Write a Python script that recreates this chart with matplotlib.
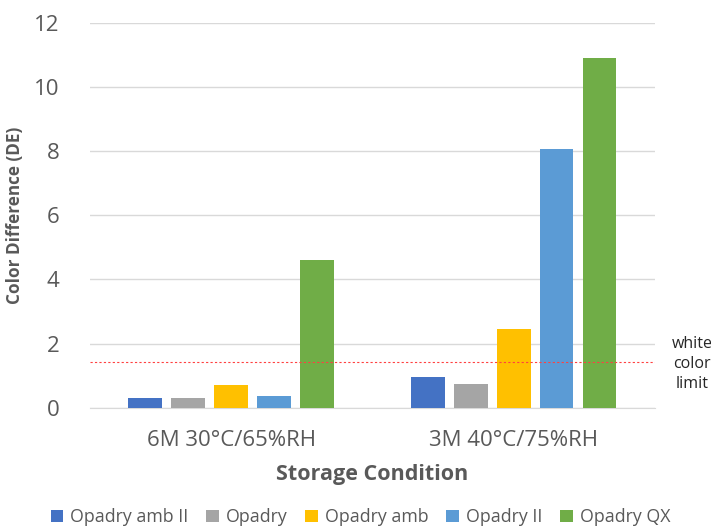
import numpy as np
from matplotlib import pyplot as plt

# data
conditions = ['6M 30°C/65%RH', '3M 40°C/75%RH']
series = ['Opadry amb II', 'Opadry', 'Opadry amb', 'Opadry II', 'Opadry QX']
amb_ii = [0.30, 0.95]
opadry = [0.30, 0.74]
amb = [0.71, 2.44]
opadry_ii = [0.37, 8.06]
qx = [4.6, 10.9]
white_limit = 1.44

colors = ['#4472C4', '#A5A5A5', '#FFC000', '#5B9BD5', '#70AD47']
values = [amb_ii, opadry, amb, opadry_ii, qx]

plt.rcParams['font.family'] = ['Open Sans', 'DejaVu Sans']

fig = plt.figure(figsize=(7.11, 5.27), dpi=100)
ax = fig.add_axes([0.1266, 0.2264, 0.7944, 0.73])

x = np.arange(len(conditions))
w = 0.12
step = 0.152
for i, (name, vals) in enumerate(zip(series, values)):
    off = (i - 2) * step
    ax.bar(x + off, vals, w, color=colors[i], label=name, zorder=3)

ax.axhline(white_limit, color='#FF4040', lw=0.8, ls=(0, (2, 2)), zorder=4)
fig.text(692 / 711, 1 - 364 / 527, 'white\ncolor\nlimit', ha='center', va='center',
         fontsize=11.5, color='#262626', linespacing=1.3, multialignment='center')

ax.set_xlim(-0.5, 1.5)
ax.set_ylim(0, 12)
ax.set_yticks([0, 2, 4, 6, 8, 10, 12])
ax.set_xticks(x)
ax.set_xticklabels(conditions)
ax.tick_params(axis='both', length=0, labelsize=16, colors='#595959')
ax.tick_params(axis='x', pad=16)
ax.tick_params(axis='y', pad=22)
ax.grid(axis='y', color='#D9D9D9', lw=1, zorder=0)
for s in ['top', 'right', 'left']:
    ax.spines[s].set_visible(False)
ax.spines['bottom'].set_color('#D9D9D9')

ax.set_ylabel('Color Difference (DE)', fontsize=12.3, fontweight='bold', color='#595959')
ax.yaxis.set_label_coords(-(90 - 24) / 565, 0.5)
ax.set_xlabel('Storage Condition', fontsize=15.5, fontweight='bold', color='#595959')
ax.xaxis.set_label_coords(0.5, -(475 - 407.7) / 384.7)
ax.xaxis.label.set_va('center')

fig.legend(loc='center', bbox_to_anchor=(0.5 + 5 / 711, 1 - 517 / 527), ncol=5, frameon=False,
           fontsize=12.8, handlelength=0.7, handleheight=0.7, handletextpad=0.4,
           columnspacing=1.0, labelcolor='#595959')

fig.savefig('out.png', dpi=100)
